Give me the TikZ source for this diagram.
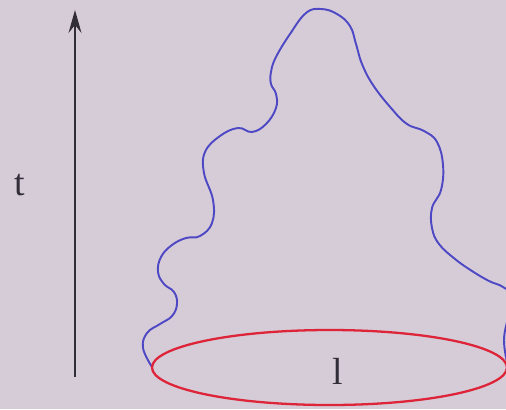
\documentclass[tikz,border=0pt]{standalone}
\usepackage{fontspec}
\setmainfont{Liberation Serif}
\usetikzlibrary{arrows.meta}
\definecolor{paper}{RGB}{214,204,216}
\definecolor{ink}{RGB}{50,46,56}
\definecolor{loopblue}{RGB}{78,72,196}
\definecolor{loopred}{RGB}{222,36,56}

\begin{document}
\begin{tikzpicture}[
  x=0.02cm, y=-0.02cm,
  lbl/.style={text=ink, inner sep=0pt, font=\fontsize{21.5}{24}\selectfont},
  axis/.style={draw=ink, line width=1pt,
               -{Stealth[length=4.6mm, width=2.6mm, inset=1.6mm]}},
  sheet/.style={draw=loopblue, line width=1.1pt},
  base/.style={draw=loopred, line width=1.3pt}
]
  \fill[paper] (0,0) rectangle (506,409);
  \useasboundingbox (0,0) rectangle (506,409);
  \clip (0,0) rectangle (506,409);
  % time axis
  \coordinate (t0) at (75,377);
  \coordinate (t1) at (75,10);
  \draw[axis] (t0) -- (t1);
  \node[lbl] (tlab) at (20,185) {t};
  % surface swept out by the loop
  \draw[sheet] plot[smooth, tension=0.7] coordinates {
    (152,367) (143,348) (147,333) (160,324) (172,316) (177,304)
    (174,292) (164,284) (158,272) (161,257) (172,245) (186,238)
    (200,236) (212,223) (213,200) (204,173) (205,152) (220,136)
    (238,128) (252,132) (266,124) (276,108) (276,94) (271,84)
    (271,72) (276,57) (290,34) (306,13) (321,9) (337,14) (350,26)
    (356,44) (362,64) (373,85) (391,108) (407,124) (424,131)
    (437,142) (443,165) (441,190) (432,208) (432,228)
    (439,244) (455,259) (472,271) (489,281) (503,287) (514,298)
    (508,318) (504,340) (507,362)};
  % the loop at t=0
  \draw[base] (329.5,367.5) ellipse [x radius=177.5, y radius=37.5];
  \node[lbl] (llab) at (338,371) {l};
\end{tikzpicture}
\end{document}
